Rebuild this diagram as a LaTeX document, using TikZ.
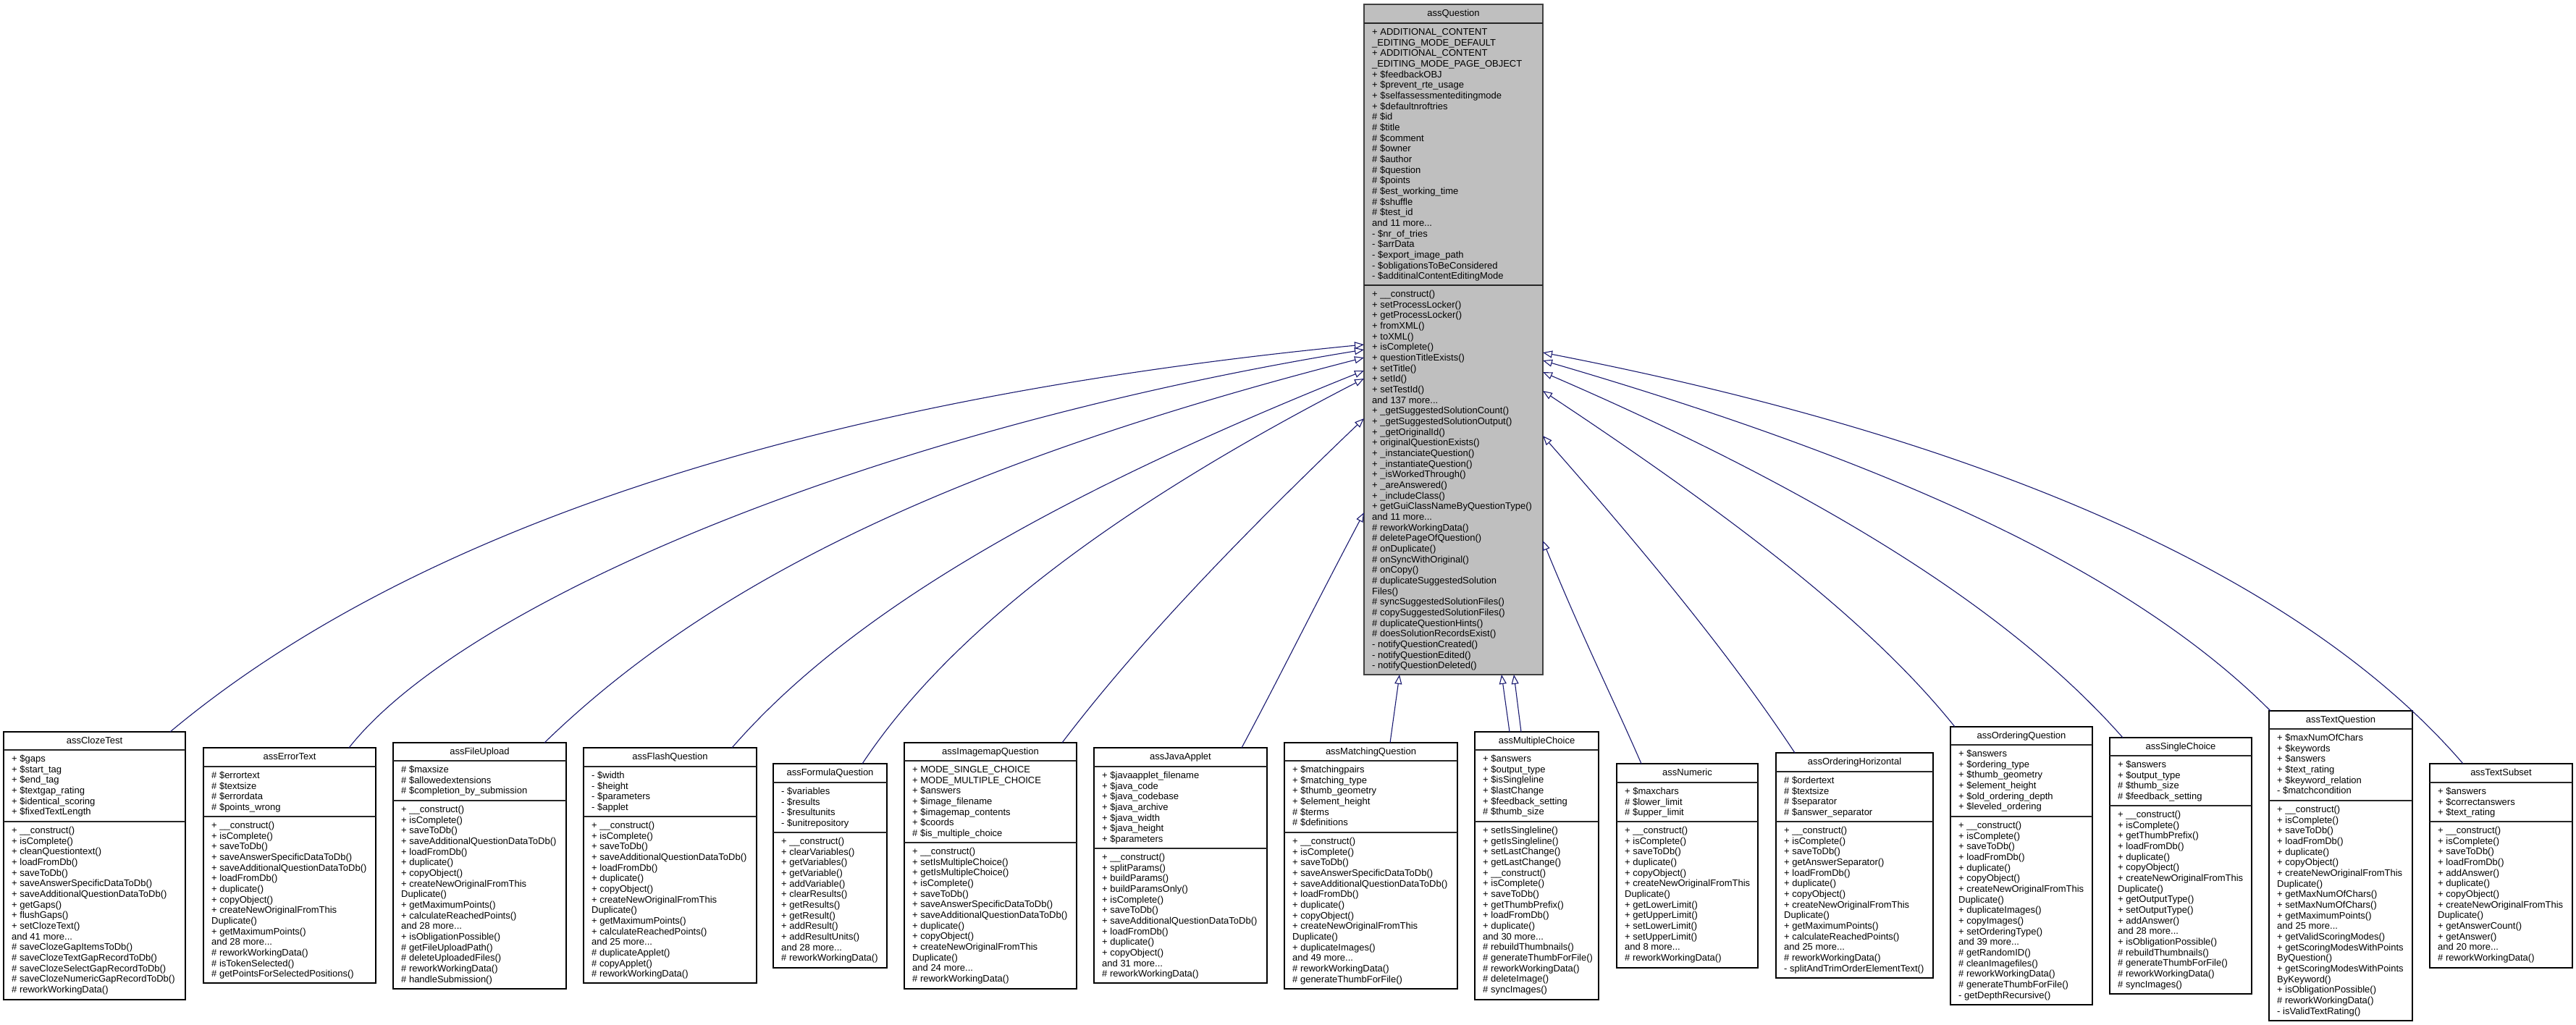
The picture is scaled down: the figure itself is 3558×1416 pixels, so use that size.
\documentclass[tikz,border=0pt]{standalone}
\usepackage{fontspec}
\setmainfont{Liberation Sans}
\usetikzlibrary{arrows.meta,calc}
\definecolor{edgeblue}{HTML}{191970}
\definecolor{rootfill}{HTML}{BFBFBF}
\definecolor{rootline}{HTML}{404040}
\tikzset{
  classbox/.style={draw=black, fill=white, line width=1.3pt, inner sep=0pt, outer sep=0pt},
  rootbox/.style={classbox, draw=rootline, fill=rootfill},
  sepline/.style={line width=1.3pt, draw=black!85},
  titletext/.style={anchor=base, inner sep=0pt, font=\fontsize{13}{14.67}\selectfont},
  listtext/.style={anchor=base west, inner sep=0pt, font=\fontsize{13}{14.67}\selectfont},
  inherit/.style={draw=edgeblue, line width=1.1pt, -{Triangle[length=13pt,width=10pt,fill=white]}},
}
% name, left, top, right, sep1, sep2, bottom, title, style
\newcommand{\umlclass}[9]{%
  \node[#9, minimum width={(#4-#2)*1pt}, minimum height={(#7-#3)*1pt}] (#1) at ({(#2+#4)/2},{(#3+#7)/2}) {};
  \draw[sepline] (#2,#5) -- (#4,#5) (#2,#6) -- (#4,#6);
  \node[titletext] (#1-t) at ({(#2+#4)/2},{#3+16}) {#8};
  \gdef\cL{#2}\gdef\cA{#5}\gdef\cM{#6}\gdef\cN{#1}%
}
\newcommand{\umlattrs}[1]{\node[listtext] (\cN-a) at ({\cL+11},{\cA+16.5}) {\parbox[t]{400pt}{\raggedright #1}};}
\newcommand{\umlmeths}[1]{\node[listtext] (\cN-m) at ({\cL+11},{\cM+16.5}) {\parbox[t]{400pt}{\raggedright #1}};}

\begin{document}
\begin{tikzpicture}[x=1pt,y=-1pt]
\useasboundingbox (0,0) rectangle (3558,1416);

% ---------- root ----------
\umlclass{q}{1884}{6}{2131}{32}{394}{932}{assQuestion}{rootbox}
\umlattrs{+ ADDITIONAL\_CONTENT\\\_EDITING\_MODE\_DEFAULT\\+ ADDITIONAL\_CONTENT\\\_EDITING\_MODE\_PAGE\_OBJECT\\+ \$feedbackOBJ\\+ \$prevent\_rte\_usage\\+ \$selfassessmenteditingmode\\+ \$defaultnroftries\\\# \$id\\\# \$title\\\# \$comment\\\# \$owner\\\# \$author\\\# \$question\\\# \$points\\\# \$est\_working\_time\\\# \$shuffle\\\# \$test\_id\\and 11 more...\\- \$nr\_of\_tries\\- \$arrData\\- \$export\_image\_path\\- \$obligationsToBeConsidered\\- \$additinalContentEditingMode}
\umlmeths{+ \_\_construct()\\+ setProcessLocker()\\+ getProcessLocker()\\+ fromXML()\\+ toXML()\\+ isComplete()\\+ questionTitleExists()\\+ setTitle()\\+ setId()\\+ setTestId()\\and 137 more...\\+ \_getSuggestedSolutionCount()\\+ \_getSuggestedSolutionOutput()\\+ \_getOriginalId()\\+ originalQuestionExists()\\+ \_instanciateQuestion()\\+ \_instantiateQuestion()\\+ \_isWorkedThrough()\\+ \_areAnswered()\\+ \_includeClass()\\+ getGuiClassNameByQuestionType()\\and 11 more...\\\# reworkWorkingData()\\\# deletePageOfQuestion()\\\# onDuplicate()\\\# onSyncWithOriginal()\\\# onCopy()\\\# duplicateSuggestedSolution\\Files()\\\# syncSuggestedSolutionFiles()\\\# copySuggestedSolutionFiles()\\\# duplicateQuestionHints()\\\# doesSolutionRecordsExist()\\- notifyQuestionCreated()\\- notifyQuestionEdited()\\- notifyQuestionDeleted()}

% ---------- children ----------
\umlclass{cloze}{5}{1011}{256}{1036}{1135}{1381}{assClozeTest}{classbox}
\umlattrs{+ \$gaps\\+ \$start\_tag\\+ \$end\_tag\\+ \$textgap\_rating\\+ \$identical\_scoring\\+ \$fixedTextLength}
\umlmeths{+ \_\_construct()\\+ isComplete()\\+ cleanQuestiontext()\\+ loadFromDb()\\+ saveToDb()\\+ saveAnswerSpecificDataToDb()\\+ saveAdditionalQuestionDataToDb()\\+ getGaps()\\+ flushGaps()\\+ setClozeText()\\and 41 more...\\\# saveClozeGapItemsToDb()\\\# saveClozeTextGapRecordToDb()\\\# saveClozeSelectGapRecordToDb()\\\# saveClozeNumericGapRecordToDb()\\\# reworkWorkingData()}

\umlclass{errortext}{281}{1033}{519}{1059}{1128}{1358}{assErrorText}{classbox}
\umlattrs{\# \$errortext\\\# \$textsize\\\# \$errordata\\\# \$points\_wrong}
\umlmeths{+ \_\_construct()\\+ isComplete()\\+ saveToDb()\\+ saveAnswerSpecificDataToDb()\\+ saveAdditionalQuestionDataToDb()\\+ loadFromDb()\\+ duplicate()\\+ copyObject()\\+ createNewOriginalFromThis\\Duplicate()\\+ getMaximumPoints()\\and 28 more...\\\# reworkWorkingData()\\\# isTokenSelected()\\\# getPointsForSelectedPositions()}

\umlclass{fileupload}{543}{1026}{782}{1051}{1106}{1366}{assFileUpload}{classbox}
\umlattrs{\# \$maxsize\\\# \$allowedextensions\\\# \$completion\_by\_submission}
\umlmeths{+ \_\_construct()\\+ isComplete()\\+ saveToDb()\\+ saveAdditionalQuestionDataToDb()\\+ loadFromDb()\\+ duplicate()\\+ copyObject()\\+ createNewOriginalFromThis\\Duplicate()\\+ getMaximumPoints()\\+ calculateReachedPoints()\\and 28 more...\\+ isObligationPossible()\\\# getFileUploadPath()\\\# deleteUploadedFiles()\\\# reworkWorkingData()\\\# handleSubmission()}

\umlclass{flash}{806}{1033}{1045}{1059}{1128}{1358}{assFlashQuestion}{classbox}
\umlattrs{- \$width\\- \$height\\- \$parameters\\- \$applet}
\umlmeths{+ \_\_construct()\\+ isComplete()\\+ saveToDb()\\+ saveAdditionalQuestionDataToDb()\\+ loadFromDb()\\+ duplicate()\\+ copyObject()\\+ createNewOriginalFromThis\\Duplicate()\\+ getMaximumPoints()\\+ calculateReachedPoints()\\and 25 more...\\\# duplicateApplet()\\\# copyApplet()\\\# reworkWorkingData()}

\umlclass{formula}{1068}{1055}{1225}{1081}{1150}{1337}{assFormulaQuestion}{classbox}
\umlattrs{- \$variables\\- \$results\\- \$resultunits\\- \$unitrepository}
\umlmeths{+ \_\_construct()\\+ clearVariables()\\+ getVariables()\\+ getVariable()\\+ addVariable()\\+ clearResults()\\+ getResults()\\+ getResult()\\+ addResult()\\+ addResultUnits()\\and 28 more...\\\# reworkWorkingData()}

\umlclass{imagemap}{1249}{1026}{1487}{1051}{1164}{1366}{assImagemapQuestion}{classbox}
\umlattrs{+ MODE\_SINGLE\_CHOICE\\+ MODE\_MULTIPLE\_CHOICE\\+ \$answers\\+ \$image\_filename\\+ \$imagemap\_contents\\+ \$coords\\\# \$is\_multiple\_choice}
\umlmeths{+ \_\_construct()\\+ setIsMultipleChoice()\\+ getIsMultipleChoice()\\+ isComplete()\\+ saveToDb()\\+ saveAnswerSpecificDataToDb()\\+ saveAdditionalQuestionDataToDb()\\+ duplicate()\\+ copyObject()\\+ createNewOriginalFromThis\\Duplicate()\\and 24 more...\\\# reworkWorkingData()}

\umlclass{javaapplet}{1511}{1033}{1750}{1059}{1172}{1358}{assJavaApplet}{classbox}
\umlattrs{+ \$javaapplet\_filename\\+ \$java\_code\\+ \$java\_codebase\\+ \$java\_archive\\+ \$java\_width\\+ \$java\_height\\+ \$parameters}
\umlmeths{+ \_\_construct()\\+ splitParams()\\+ buildParams()\\+ buildParamsOnly()\\+ isComplete()\\+ saveToDb()\\+ saveAdditionalQuestionDataToDb()\\+ loadFromDb()\\+ duplicate()\\+ copyObject()\\and 31 more...\\\# reworkWorkingData()}

\umlclass{matching}{1774}{1026}{2013}{1051}{1150}{1366}{assMatchingQuestion}{classbox}
\umlattrs{+ \$matchingpairs\\+ \$matching\_type\\+ \$thumb\_geometry\\+ \$element\_height\\\# \$terms\\\# \$definitions}
\umlmeths{+ \_\_construct()\\+ isComplete()\\+ saveToDb()\\+ saveAnswerSpecificDataToDb()\\+ saveAdditionalQuestionDataToDb()\\+ loadFromDb()\\+ duplicate()\\+ copyObject()\\+ createNewOriginalFromThis\\Duplicate()\\+ duplicateImages()\\and 49 more...\\\# reworkWorkingData()\\\# generateThumbForFile()}

\umlclass{multiplechoice}{2037}{1011}{2208}{1036}{1135}{1381}{assMultipleChoice}{classbox}
\umlattrs{+ \$answers\\+ \$output\_type\\+ \$isSingleline\\+ \$lastChange\\+ \$feedback\_setting\\\# \$thumb\_size}
\umlmeths{+ setIsSingleline()\\+ getIsSingleline()\\+ setLastChange()\\+ getLastChange()\\+ \_\_construct()\\+ isComplete()\\+ saveToDb()\\+ getThumbPrefix()\\+ loadFromDb()\\+ duplicate()\\and 30 more...\\\# rebuildThumbnails()\\\# generateThumbForFile()\\\# reworkWorkingData()\\\# deleteImage()\\\# syncImages()}

\umlclass{numeric}{2233}{1055}{2428}{1081}{1135}{1337}{assNumeric}{classbox}
\umlattrs{+ \$maxchars\\\# \$lower\_limit\\\# \$upper\_limit}
\umlmeths{+ \_\_construct()\\+ isComplete()\\+ saveToDb()\\+ duplicate()\\+ copyObject()\\+ createNewOriginalFromThis\\Duplicate()\\+ getLowerLimit()\\+ getUpperLimit()\\+ setLowerLimit()\\+ setUpperLimit()\\and 8 more...\\\# reworkWorkingData()}

\umlclass{ordhoriz}{2453}{1040}{2670}{1066}{1135}{1351}{assOrderingHorizontal}{classbox}
\umlattrs{\# \$ordertext\\\# \$textsize\\\# \$separator\\\# \$answer\_separator}
\umlmeths{+ \_\_construct()\\+ isComplete()\\+ saveToDb()\\+ getAnswerSeparator()\\+ loadFromDb()\\+ duplicate()\\+ copyObject()\\+ createNewOriginalFromThis\\Duplicate()\\+ getMaximumPoints()\\+ calculateReachedPoints()\\and 25 more...\\\# reworkWorkingData()\\- splitAndTrimOrderElementText()}

\umlclass{ordquestion}{2694}{1004}{2890}{1029}{1128}{1388}{assOrderingQuestion}{classbox}
\umlattrs{+ \$answers\\+ \$ordering\_type\\+ \$thumb\_geometry\\+ \$element\_height\\+ \$old\_ordering\_depth\\+ \$leveled\_ordering}
\umlmeths{+ \_\_construct()\\+ isComplete()\\+ saveToDb()\\+ loadFromDb()\\+ duplicate()\\+ copyObject()\\+ createNewOriginalFromThis\\Duplicate()\\+ duplicateImages()\\+ copyImages()\\+ setOrderingType()\\and 39 more...\\\# getRandomID()\\\# cleanImagefiles()\\\# reworkWorkingData()\\\# generateThumbForFile()\\- getDepthRecursive()}

\umlclass{singlechoice}{2914}{1019}{3110}{1044}{1113}{1373}{assSingleChoice}{classbox}
\umlattrs{+ \$answers\\+ \$output\_type\\\# \$thumb\_size\\\# \$feedback\_setting}
\umlmeths{+ \_\_construct()\\+ isComplete()\\+ getThumbPrefix()\\+ loadFromDb()\\+ duplicate()\\+ copyObject()\\+ createNewOriginalFromThis\\Duplicate()\\+ getOutputType()\\+ setOutputType()\\+ addAnswer()\\and 28 more...\\+ isObligationPossible()\\\# rebuildThumbnails()\\\# generateThumbForFile()\\\# reworkWorkingData()\\\# syncImages()}

\umlclass{textquestion}{3134}{982}{3332}{1007}{1106}{1410}{assTextQuestion}{classbox}
\umlattrs{+ \$maxNumOfChars\\+ \$keywords\\+ \$answers\\+ \$text\_rating\\+ \$keyword\_relation\\- \$matchcondition}
\umlmeths{+ \_\_construct()\\+ isComplete()\\+ saveToDb()\\+ loadFromDb()\\+ duplicate()\\+ copyObject()\\+ createNewOriginalFromThis\\Duplicate()\\+ getMaxNumOfChars()\\+ setMaxNumOfChars()\\+ getMaximumPoints()\\and 25 more...\\+ getValidScoringModes()\\+ getScoringModesWithPoints\\ByQuestion()\\+ getScoringModesWithPoints\\ByKeyword()\\+ isObligationPossible()\\\# reworkWorkingData()\\- isValidTextRating()}

\umlclass{textsubset}{3356}{1055}{3553}{1081}{1135}{1337}{assTextSubset}{classbox}
\umlattrs{+ \$answers\\+ \$correctanswers\\+ \$text\_rating}
\umlmeths{+ \_\_construct()\\+ isComplete()\\+ saveToDb()\\+ loadFromDb()\\+ addAnswer()\\+ duplicate()\\+ copyObject()\\+ createNewOriginalFromThis\\Duplicate()\\+ getAnswerCount()\\+ getAnswer()\\and 20 more...\\\# reworkWorkingData()}

% ---------- inheritance connectors ----------
\draw[inherit] ($(cloze.north west)+(230,0)$) .. controls (557,742) and (1088,554) .. ($(q.north west)+(0,470)$);
\draw[inherit] ($(errortext.north west)+(201,0)$) .. controls (637,836) and (1193,596) .. ($(q.north west)+(0,477)$);
\draw[inherit] ($(fileupload.north west)+(209,0)$) .. controls (985,800) and (1327,637) .. ($(q.north west)+(0,488)$);
\draw[inherit] ($(flash.north west)+(205,0)$) .. controls (1171,849) and (1450,686) .. ($(q.north west)+(0,506)$);
\draw[inherit] ($(formula.north west)+(123,0)$) .. controls (1307,880) and (1527,707) .. ($(q.north west)+(0,517)$);
\draw[inherit] ($(imagemap.north west)+(218,0)$) .. controls (1556,909) and (1680,773) .. ($(q.north west)+(0,572)$);
\draw[inherit] ($(javaapplet.north west)+(204,0)$) .. controls (1767,936) and (1807,854) .. ($(q.north west)+(0,702)$);
\draw[inherit] ($(matching.north west)+(146,0)$) -- ($(q.south west)+(49,0)$);
\draw[inherit] ($(multiplechoice.north west)+(48,0)$) -- ($(q.south west)+(190,0)$);
\draw[inherit] ($(multiplechoice.north west)+(64,0)$) -- ($(q.south west)+(207,0)$);
\draw[inherit] ($(numeric.north west)+(34,0)$) .. controls (2227,963) and (2188,886) .. ($(q.north east)+(0,741)$);
\draw[inherit] ($(ordhoriz.north west)+(26,0)$) .. controls (2405,928) and (2301,795) .. ($(q.north east)+(0,596)$);
\draw[inherit] ($(ordquestion.north west)+(6,0)$) .. controls (2590,867) and (2413,727) .. ($(q.north east)+(0,534)$);
\draw[inherit] ($(singlechoice.north west)+(18,0)$) .. controls (2782,849) and (2531,687) .. ($(q.north east)+(0,508)$);
\draw[inherit] ($(textquestion.north west)+(2,0)$) .. controls (2947,793) and (2624,642) .. ($(q.north east)+(0,492)$);
\draw[inherit] ($(textsubset.north west)+(46,0)$) .. controls (3184,802) and (2759,609) .. ($(q.north east)+(0,481)$);
\end{tikzpicture}
\end{document}
